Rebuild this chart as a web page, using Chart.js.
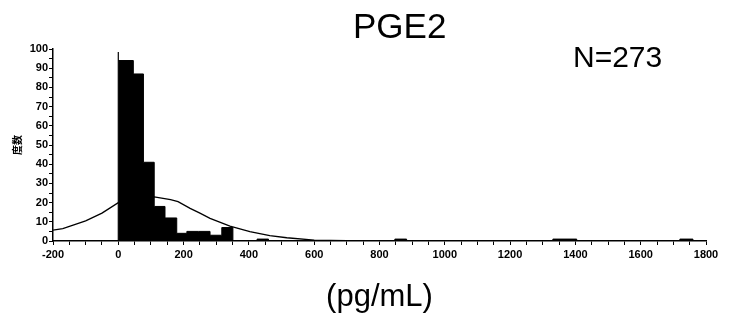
<!DOCTYPE html>
<html>
<head>
<meta charset="utf-8">
<script src="https://cdn.jsdelivr.net/npm/chart.js@4/dist/chart.umd.min.js"></script>
<style>
  html, body { margin: 0; padding: 0; background: #fff; }
  #wrap { width: 736px; height: 323px; position: relative; }
</style>
</head>
<body>
<div id="wrap"><canvas id="chart"></canvas></div>
<script>
// histogram bins (left edge, count)
var binStart = [0, 46, 77, 110, 143, 179, 210, 245, 281, 317, 351, 425, 460, 847, 883, 1331, 1404, 1720, 1760, 1800];
var binCount = [94, 87, 41, 18, 12, 4, 5, 5, 3, 7, 0, 1, 0, 1, 0, 1, 0, 1, 0, 0];

// fitted curve
var curveX = [-200, -170, -100, -50, 0, 50, 110, 160, 183, 220, 250, 281, 342, 403, 464, 516, 600, 700, 800, 1000, 1200, 1400, 1600, 1800];
var curveY = [5.7, 6.5, 10.5, 14.5, 20, 22, 23, 21.5, 20.5, 17, 14.5, 11.8, 7.8, 4.9, 2.8, 1.7, 0.5, 0.2, 0, 0, 0, 0, 0, 0];

// vertical line at zero
var zeroLineX = [0, 0];
var zeroLineY = [0, 98.5];

var title = "PGE2";
var nLabel = "N=273";
var xTitle = "(pg/mL)";
var yTitle = "度数";

var histData = binStart.map(function (x, i) { return { x: x, y: binCount[i] }; });
var curveData = curveX.map(function (x, i) { return { x: x, y: curveY[i] }; });
var zeroData = zeroLineX.map(function (x, i) { return { x: x, y: zeroLineY[i] }; });

var textPlugin = {
    id: "textPlugin",
    afterDraw: function (chart) {
        var ctx = chart.ctx;
        ctx.save();
        ctx.fillStyle = "#000";
        ctx.textAlign = "left";
        ctx.textBaseline = "alphabetic";
        ctx.font = "35px 'Liberation Sans', Arial, sans-serif";
        ctx.fillText(title, 353, 38);
        ctx.font = "30px 'Liberation Sans', Arial, sans-serif";
        ctx.fillText(nLabel, 573, 67);
        ctx.restore();
    }
};

var tickFont = { family: "'Liberation Sans Narrow', 'Arial Narrow', sans-serif", size: 11, weight: "bold" };

new Chart(document.getElementById("chart"), {
    type: "line",
    data: {
        datasets: [
            {
                data: curveData,
                borderColor: "#000",
                borderWidth: 1.3,
                pointRadius: 0,
                fill: false,
                tension: 0,
                order: 0
            },
            {
                data: zeroData,
                borderColor: "#000",
                borderWidth: 1.2,
                pointRadius: 0,
                fill: false,
                order: 1
            },
            {
                data: histData,
                stepped: true,
                borderColor: "#000",
                borderWidth: 1,
                backgroundColor: "#000",
                pointRadius: 0,
                fill: "origin",
                order: 2
            }
        ]
    },
    options: {
        responsive: true,
        maintainAspectRatio: false,
        animation: false,
        layout: { padding: { top: 49, right: 30, left: 0, bottom: 0 } },
        plugins: {
            legend: { display: false },
            tooltip: { enabled: false }
        },
        scales: {
            x: {
                type: "linear",
                min: -200,
                max: 1800,
                afterFit: function (scale) { scale.height = 82; },
                border: { color: "#000", width: 1.5 },
                grid: { drawOnChartArea: false, drawTicks: true, tickLength: 4, color: "#000" },
                ticks: {
                    stepSize: 50,
                    autoSkip: false,
                    maxRotation: 0,
                    padding: 3,
                    color: "#000",
                    font: tickFont,
                    callback: function (v) { return v % 200 === 0 ? String(v) : ""; }
                },
                title: {
                    display: true,
                    text: xTitle,
                    color: "#000",
                    font: { family: "'Liberation Sans', Arial, sans-serif", size: 31 },
                    padding: { top: 0, bottom: 7 }
                }
            },
            y: {
                min: 0,
                max: 100,
                afterFit: function (scale) { scale.width = 53; },
                border: { color: "#000", width: 1.5 },
                grid: { drawOnChartArea: false, drawTicks: true, tickLength: 4, color: "#000" },
                ticks: {
                    stepSize: 5,
                    autoSkip: false,
                    padding: 1,
                    color: "#000",
                    font: tickFont,
                    callback: function (v) { return v % 10 === 0 ? String(v) : ""; }
                },
                title: {
                    display: true,
                    text: yTitle,
                    color: "#000",
                    font: { family: "'Noto Sans CJK JP', sans-serif", size: 10, weight: "bold" },
                    padding: { top: 11, bottom: 0 }
                }
            }
        }
    },
    plugins: [textPlugin]
});
</script>
</body>
</html>
